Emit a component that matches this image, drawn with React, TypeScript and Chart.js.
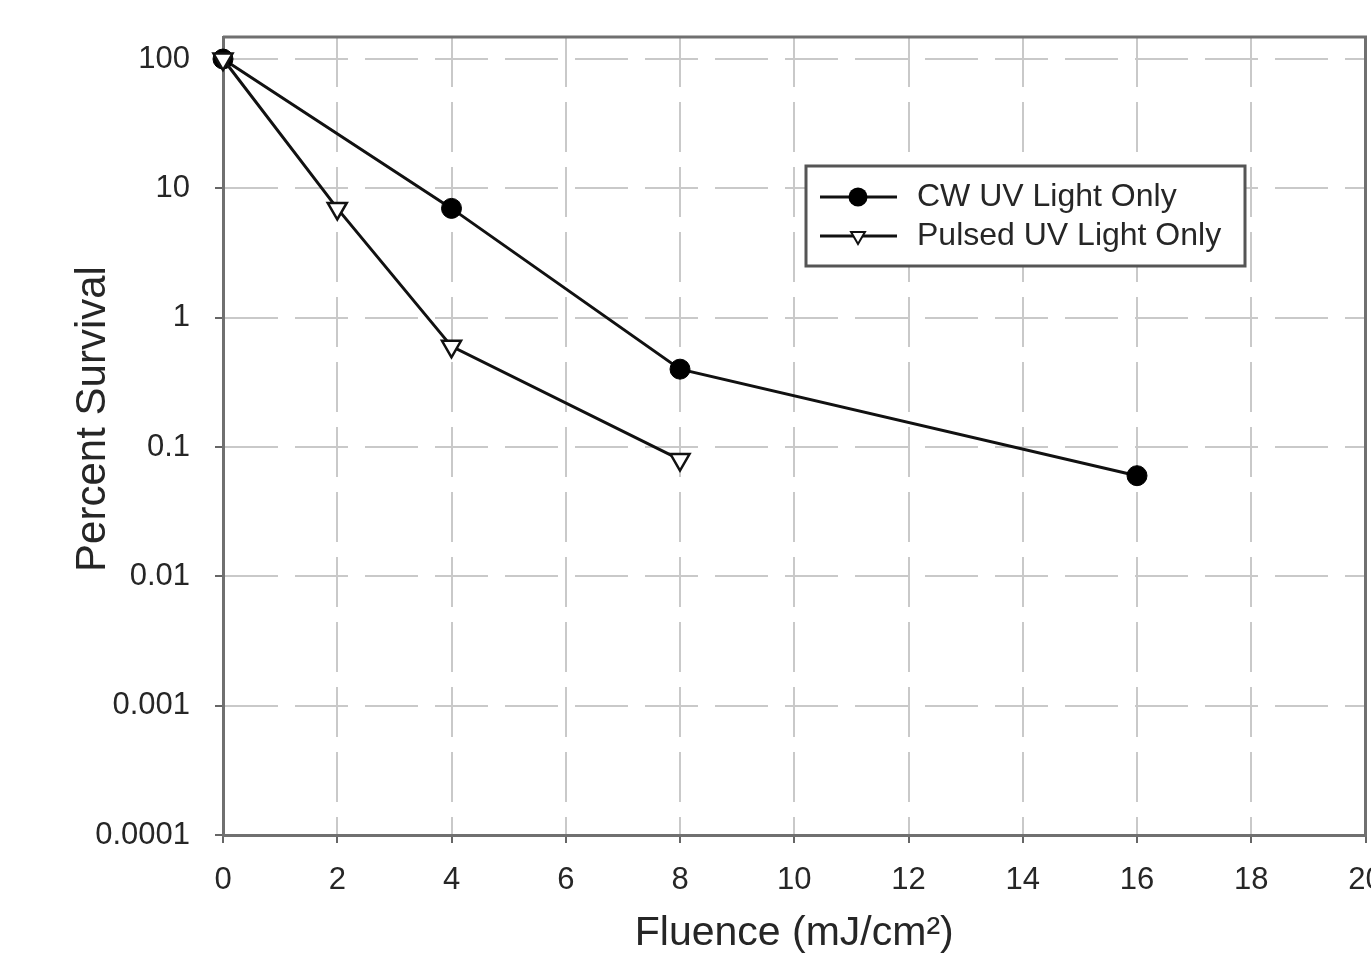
import React, { useEffect, useRef } from 'react';
import { Chart, registerables } from 'chart.js';

Chart.register(...registerables);

const xTickValues = [0, 2, 4, 6, 8, 10, 12, 14, 16, 18, 20];
const yTickValues = [0.0001, 0.001, 0.01, 0.1, 1, 10, 100];
const yTickLabels = ['0.0001', '0.001', '0.01', '0.1', '1', '10', '100'];

const cwFluence = [0, 4, 8, 16];
const cwSurvival = [100, 7, 0.4, 0.06];
const pulsedFluence = [0, 2, 4, 8];
const pulsedSurvival = [100, 7, 0.6, 0.08];

const seriesLabels = ['CW UV Light Only', 'Pulsed UV Light Only'];
const xTitle = 'Fluence (mJ/cm\u00B2)';
const yTitle = 'Percent Survival';

const FAMILY = '"Liberation Sans", Arial, Helvetica, sans-serif';
const TEXT = '#262626';
const AXIS = '#707070';
const GRID = '#c9c9c9';

const CANVAS_W = 1379;
const CANVAS_H = 962;

const framePlugin = {
  id: 'frame',
  beforeDatasetsDraw(chart: any) {
    const { ctx, chartArea: a } = chart;
    ctx.save();
    ctx.strokeStyle = AXIS;
    ctx.lineWidth = 3;
    ctx.beginPath();
    ctx.moveTo(a.left, a.top);
    ctx.lineTo(a.right, a.top);
    ctx.lineTo(a.right, a.bottom);
    ctx.stroke();
    ctx.restore();
  },
};

const yTitlePlugin = {
  id: 'yTitle',
  afterDraw(chart: any) {
    const { ctx } = chart;
    ctx.save();
    ctx.translate(93, 419);
    ctx.rotate(-Math.PI / 2);
    ctx.fillStyle = TEXT;
    ctx.font = `42px ${FAMILY}`;
    ctx.textAlign = 'center';
    ctx.textBaseline = 'middle';
    ctx.fillText(yTitle, 0, 0);
    ctx.restore();
  },
};

const legendPlugin = {
  id: 'boxLegend',
  afterDraw(chart: any) {
    const { ctx } = chart;
    const x0 = 806, y0 = 166, w = 439, h = 100;
    ctx.save();
    ctx.fillStyle = '#fff';
    ctx.fillRect(x0, y0, w, h);
    ctx.lineWidth = 3;
    ctx.strokeStyle = '#555';
    ctx.strokeRect(x0, y0, w, h);
    const rows = [197, 236];
    const dsOrder = [1, 0];
    rows.forEach((ry, i) => {
      const ds = chart.data.datasets[dsOrder[i]];
      ctx.strokeStyle = ds.borderColor;
      ctx.lineWidth = 3;
      ctx.beginPath();
      ctx.moveTo(820, ry);
      ctx.lineTo(897, ry);
      ctx.stroke();
      const cx = 858;
      if (ds.pointStyle === 'triangle') {
        const r = 8;
        ctx.beginPath();
        ctx.moveTo(cx, ry + r);
        ctx.lineTo(cx - r * Math.sin(Math.PI / 3), ry - r / 2);
        ctx.lineTo(cx + r * Math.sin(Math.PI / 3), ry - r / 2);
        ctx.closePath();
        ctx.fillStyle = ds.pointBackgroundColor;
        ctx.fill();
        ctx.lineWidth = 2;
        ctx.strokeStyle = ds.pointBorderColor;
        ctx.stroke();
      } else {
        ctx.beginPath();
        ctx.arc(cx, ry, 9.5, 0, Math.PI * 2);
        ctx.fillStyle = ds.pointBackgroundColor;
        ctx.fill();
      }
      ctx.fillStyle = TEXT;
      ctx.font = `32px ${FAMILY}`;
      ctx.textAlign = 'left';
      ctx.textBaseline = 'middle';
      ctx.fillText(ds.label, 917, ry);
    });
    ctx.restore();
  },
};

function yLabel(v: number): string {
  for (let i = 0; i < yTickValues.length; i++) {
    if (Math.abs(Math.log10(v) - Math.log10(yTickValues[i])) < 1e-6) return yTickLabels[i];
  }
  return '';
}

export default function App() {
  const ref = useRef<HTMLCanvasElement | null>(null);

  useEffect(() => {
    if (!ref.current) return;
    const chart = new Chart(ref.current, {
      type: 'line',
      data: {
        datasets: [
          {
            label: seriesLabels[1],
            data: pulsedFluence.map((x, i) => ({ x, y: pulsedSurvival[i] })),
            borderColor: '#111',
            borderWidth: 3,
            pointStyle: 'triangle',
            pointRotation: 180,
            pointRadius: 11,
            pointBackgroundColor: '#fff',
            pointBorderColor: '#111',
            pointBorderWidth: 2.5,
            order: 0,
            clip: false,
            fill: false,
            tension: 0,
          } as any,
          {
            label: seriesLabels[0],
            data: cwFluence.map((x, i) => ({ x, y: cwSurvival[i] })),
            borderColor: '#111',
            borderWidth: 3,
            pointStyle: 'circle',
            pointRadius: 10,
            pointBackgroundColor: '#000',
            pointBorderColor: '#000',
            pointBorderWidth: 1,
            order: 1,
            clip: false,
            fill: false,
            tension: 0,
          } as any,
        ],
      },
      options: {
        responsive: false,
        animation: false,
        devicePixelRatio: 1,
        events: [],
        layout: { padding: { left: 0, top: 37, right: 0, bottom: 0 } },
        plugins: { legend: { display: false }, tooltip: { enabled: false } },
        scales: {
          x: {
            type: 'linear',
            min: 0,
            max: 20,
            bounds: 'data',
            afterBuildTicks: (s: any) => {
              s.ticks = xTickValues.map((v) => ({ value: v }));
            },
            afterFit: (s: any) => {
              s.height = 127;
              s.paddingLeft = 0;
              s.paddingRight = 0;
            },
            ticks: {
              autoSkip: false,
              maxRotation: 0,
              padding: 19,
              color: TEXT,
              font: { size: 31, family: FAMILY },
              callback: (v: any) => String(v),
            },
            grid: { color: GRID, lineWidth: 2, tickColor: '#666', tickLength: 8, tickWidth: 2 },
            border: { color: AXIS, width: 3, dash: [50, 15] },
            title: {
              display: true,
              text: xTitle,
              color: TEXT,
              font: { size: 41, family: FAMILY, lineHeight: 1 },
              padding: { top: 0, bottom: 8 },
            },
          },
          y: {
            type: 'logarithmic',
            min: 0.0001,
            max: 148,
            bounds: 'data',
            afterBuildTicks: (s: any) => {
              s.ticks = yTickValues.map((v) => ({ value: v }));
            },
            afterFit: (s: any) => {
              s.width = 223;
              s.paddingTop = 0;
              s.paddingBottom = 0;
            },
            ticks: {
              autoSkip: false,
              padding: 25,
              color: TEXT,
              font: { size: 31, family: FAMILY },
              callback: (v: any) => yLabel(Number(v)),
            },
            grid: { color: GRID, lineWidth: 2, tickColor: '#666', tickLength: 8, tickWidth: 2 },
            border: { color: AXIS, width: 3, dash: [53, 17] },
            title: { display: false },
          },
        } as any,
      },
      plugins: [framePlugin, yTitlePlugin, legendPlugin],
    });
    return () => chart.destroy();
  }, []);

  return (
    <div
      style={{
        position: 'absolute',
        left: 0,
        top: 0,
        width: 1371,
        height: CANVAS_H,
        overflow: 'hidden',
        background: '#fff',
      }}
    >
      <canvas ref={ref} width={CANVAS_W} height={CANVAS_H} style={{ display: 'block' }} />
    </div>
  );
}
